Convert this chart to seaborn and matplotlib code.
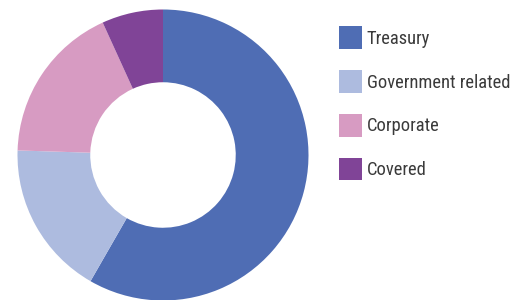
import matplotlib
matplotlib.use("Agg")
import matplotlib.pyplot as plt
from matplotlib.patches import Patch
from matplotlib import font_manager
import seaborn as sns

categories = ["Treasury", "Government related", "Corporate", "Covered"]
values = [58.3, 17.2, 17.7, 6.8]
colors = ["#4f6db4", "#adbbdf", "#d79bc2", "#804497"]

sns.set_theme(style="white")
names = {f.name for f in font_manager.fontManager.ttflist}
fam = [n for n in ['Roboto Condensed', 'Liberation Sans Narrow', 'Arial Narrow', 'Roboto'] if n in names]
plt.rcParams['font.family'] = fam + ['DejaVu Sans']

W, H = 524, 300
fig = plt.figure(figsize=(W / 100, H / 100), dpi=100)
cx, cy, r = 163, 155, 145.5
ax = fig.add_axes([(cx - r) / W, (H - cy - r) / H, 2 * r / W, 2 * r / H])
ax.pie(values, colors=colors, startangle=90, counterclock=False,
       wedgeprops=dict(width=0.5, edgecolor="none", linewidth=0))
ax.set_xlim(-1, 1)
ax.set_ylim(-1, 1)
ax.set_aspect("equal")
ax.axis("off")

handles = [Patch(facecolor=c, edgecolor="none") for c in colors]
fs = 13.3
leg = fig.legend(handles, categories, loc="upper left",
                 bbox_to_anchor=(339 / W, 1 - 26.5 / H), frameon=False,
                 fontsize=fs, handlelength=1.22, handleheight=1.5,
                 handletextpad=0.27, labelspacing=1.15, borderaxespad=0,
                 borderpad=0)
for t in leg.get_texts():
    t.set_color("#3a3a3a")
    t.set_fontstretch("condensed")

fig.savefig("out.png", dpi=100)
